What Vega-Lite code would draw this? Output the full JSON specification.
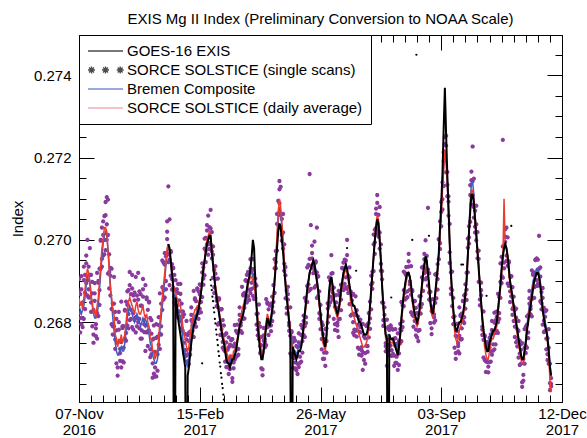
{
"$schema": "https://vega.github.io/schema/vega-lite/v6.json",
"width": 483, "height": 367,
"autosize": {"type": "none"},
"padding": {"left": 79, "top": 35, "right": 25, "bottom": 36},
"background": "white",
"title": {"text": "EXIS Mg II Index (Preliminary Conversion to NOAA Scale)", "font": "Liberation Sans", "fontSize": 15, "fontWeight": "normal", "color": "black", "anchor": "middle", "frame": "group", "offset": -4, "baseline": "alphabetic"},
"config": {"view": {"stroke": "black", "strokeWidth": 1}, "font": "Liberation Sans", "axis": {"grid": false, "domain": false, "tickColor": "black", "tickWidth": 1}},
"datasets": {
"series": [{"series":"GOES-16 EXIS"},{"series":"SORCE SOLSTICE (single scans)"},{"series":"Bremen Composite"},{"series":"SORCE SOLSTICE (daily average)"}],
"daily": [
{"date":"2016-11-07","bremen":0.2684,"sorce":0.2686,"scan1":0.26905,"scan2":0.26822,"scan3":0.26872},
{"date":"2016-11-08","bremen":0.2683,"sorce":0.2684,"scan1":0.26810,"scan2":0.26868,"scan3":0.26775},
{"date":"2016-11-09","bremen":0.2682,"sorce":0.2685,"scan1":0.26912,"scan2":0.26795,"scan3":0.26880},
{"date":"2016-11-10","bremen":0.2683,"sorce":0.2683,"scan1":0.26848,"scan2":0.26810,"scan3":0.26788},
{"date":"2016-11-11","bremen":0.2684,"sorce":0.2686,"scan1":0.26808,"scan2":0.26902,"scan3":0.26935},
{"date":"2016-11-12","bremen":0.2686,"sorce":0.2688,"scan1":0.26915,"scan2":0.26832,"scan3":0.26872},
{"date":"2016-11-13","bremen":0.2689,"sorce":0.2691,"scan1":0.26895,"scan2":0.26943,"scan3":0.26962},
{"date":"2016-11-14","bremen":0.2691,"sorce":0.2693,"scan1":0.27000,"scan2":0.26865,"scan3":0.26902},
{"date":"2016-11-15","bremen":0.2692,"sorce":0.2692,"scan1":0.26880,"scan2":0.26935,"scan3":0.26860},
{"date":"2016-11-16","bremen":0.2690,"sorce":0.2689,"scan1":0.26915,"scan2":0.26860,"scan3":0.26980},
{"date":"2016-11-17","bremen":0.2687,"sorce":0.2686,"scan1":0.26915,"scan2":0.26848,"scan3":0.26825},
{"date":"2016-11-18","bremen":0.2684,"sorce":0.2685,"scan1":0.26790,"scan2":0.26898,"scan3":0.26870},
{"date":"2016-11-19","bremen":0.2682,"sorce":0.2682,"scan1":0.26830,"scan2":0.26750,"scan3":0.26770},
{"date":"2016-11-20","bremen":0.2681,"sorce":0.2683,"scan1":0.26870,"scan2":0.26852,"scan3":0.26895},
{"date":"2016-11-21","bremen":0.2681,"sorce":0.2681,"scan1":0.26785,"scan2":0.26766,"scan3":0.26795},
{"date":"2016-11-22","bremen":0.2682,"sorce":0.2684,"scan1":0.26920,"scan2":0.26822,"scan3":0.26760},
{"date":"2016-11-23","bremen":0.2684,"sorce":0.2686,"scan1":0.26815,"scan2":0.26896,"scan3":0.26900},
{"date":"2016-11-24","bremen":0.2688,"sorce":0.2690,"scan1":0.26930,"scan2":0.26842,"scan3":0.26878},
{"date":"2016-11-25","bremen":0.2692,"sorce":0.2694,"scan1":0.26930,"scan2":0.27000,"scan3":0.26998},
{"date":"2016-11-26","bremen":0.2696,"sorce":0.2698,"scan1":0.27030,"scan2":0.26954,"scan3":0.26935},
{"date":"2016-11-27","bremen":0.2699,"sorce":0.2700,"scan1":0.27045,"scan2":0.26962,"scan3":0.27012},
{"date":"2016-11-28","bremen":0.2701,"sorce":0.2703,"scan1":0.27000,"scan2":0.27058,"scan3":0.26965},
{"date":"2016-11-29","bremen":0.2702,"sorce":0.2703,"scan1":0.27092,"scan2":0.26975,"scan3":0.27060},
{"date":"2016-11-30","bremen":0.2701,"sorce":0.2702,"scan1":0.27038,"scan2":0.27000,"scan3":0.27104},
{"date":"2016-12-01","bremen":0.2698,"sorce":0.2697,"scan1":0.26918,"scan2":0.27012,"scan3":0.27098},
{"date":"2016-12-02","bremen":0.2694,"sorce":0.2693,"scan1":0.26965,"scan2":0.26882,"scan3":0.26922},
{"date":"2016-12-03","bremen":0.2689,"sorce":0.2688,"scan1":0.26865,"scan2":0.26913,"scan3":0.26932},
{"date":"2016-12-04","bremen":0.2685,"sorce":0.2686,"scan1":0.26930,"scan2":0.26795,"scan3":0.26832},
{"date":"2016-12-05","bremen":0.2681,"sorce":0.2683,"scan1":0.26790,"scan2":0.26845,"scan3":0.26770},
{"date":"2016-12-06","bremen":0.2678,"sorce":0.2682,"scan1":0.26845,"scan2":0.26790,"scan3":0.26910},
{"date":"2016-12-07","bremen":0.2675,"sorce":0.2677,"scan1":0.26825,"scan2":0.26758,"scan3":0.26735},
{"date":"2016-12-08","bremen":0.2673,"sorce":0.2676,"scan1":0.26700,"scan2":0.26808,"scan3":0.26780},
{"date":"2016-12-09","bremen":0.2672,"sorce":0.2674,"scan1":0.26750,"scan2":0.26670,"scan3":0.26690},
{"date":"2016-12-10","bremen":0.2672,"sorce":0.2676,"scan1":0.26800,"scan2":0.26782,"scan3":0.26825},
{"date":"2016-12-11","bremen":0.2673,"sorce":0.2675,"scan1":0.26725,"scan2":0.26706,"scan3":0.26735},
{"date":"2016-12-12","bremen":0.2674,"sorce":0.2677,"scan1":0.26850,"scan2":0.26752,"scan3":0.26690},
{"date":"2016-12-13","bremen":0.2673,"sorce":0.2675,"scan1":0.26705,"scan2":0.26786,"scan3":0.26790},
{"date":"2016-12-14","bremen":0.2673,"sorce":0.2676,"scan1":0.26790,"scan2":0.26702,"scan3":0.26738},
{"date":"2016-12-15","bremen":0.2675,"sorce":0.2677,"scan1":0.26760,"scan2":0.26830,"scan3":0.26828},
{"date":"2016-12-16","bremen":0.2678,"sorce":0.2680,"scan1":0.26850,"scan2":0.26774,"scan3":0.26755},
{"date":"2016-12-17","bremen":0.2681,"sorce":0.2683,"scan1":0.26875,"scan2":0.26792,"scan3":0.26842},
{"date":"2016-12-18","bremen":0.2683,"sorce":0.2685,"scan1":0.26820,"scan2":0.26878,"scan3":0.26785},
{"date":"2016-12-19","bremen":0.2684,"sorce":0.2686,"scan1":0.26922,"scan2":0.26805,"scan3":0.26890},
{"date":"2016-12-20","bremen":0.2683,"sorce":0.2685,"scan1":0.26868,"scan2":0.26830,"scan3":0.26808},
{"date":"2016-12-21","bremen":0.2682,"sorce":0.2684,"scan1":0.26788,"scan2":0.26882,"scan3":0.26915},
{"date":"2016-12-22","bremen":0.2681,"sorce":0.2683,"scan1":0.26865,"scan2":0.26782,"scan3":0.26822},
{"date":"2016-12-23","bremen":0.2680,"sorce":0.2682,"scan1":0.26805,"scan2":0.26853,"scan3":0.26872},
{"date":"2016-12-24","bremen":0.2681,"sorce":0.2684,"scan1":0.26910,"scan2":0.26775,"scan3":0.26812},
{"date":"2016-12-25","bremen":0.2682,"sorce":0.2685,"scan1":0.26810,"scan2":0.26865,"scan3":0.26790},
{"date":"2016-12-26","bremen":0.2681,"sorce":0.2683,"scan1":0.26855,"scan2":0.26800,"scan3":0.26920},
{"date":"2016-12-27","bremen":0.2680,"sorce":0.2682,"scan1":0.26875,"scan2":0.26808,"scan3":0.26785},
{"date":"2016-12-28","bremen":0.2679,"sorce":0.2682,"scan1":0.26760,"scan2":0.26868,"scan3":0.26840},
{"date":"2016-12-29","bremen":0.2680,"sorce":0.2683,"scan1":0.26840,"scan2":0.26760,"scan3":0.26780},
{"date":"2016-12-30","bremen":0.2681,"sorce":0.2684,"scan1":0.26880,"scan2":0.26862,"scan3":0.26905},
{"date":"2016-12-31","bremen":0.2680,"sorce":0.2682,"scan1":0.26795,"scan2":0.26776,"scan3":0.26805},
{"date":"2017-01-01","bremen":0.2679,"sorce":0.2681,"scan1":0.26890,"scan2":0.26792,"scan3":0.26730},
{"date":"2017-01-02","bremen":0.2680,"sorce":0.2682,"scan1":0.26775,"scan2":0.26856,"scan3":0.26860},
{"date":"2017-01-03","bremen":0.2679,"sorce":0.2680,"scan1":0.26830,"scan2":0.26742,"scan3":0.26778},
{"date":"2017-01-04","bremen":0.2677,"sorce":0.2679,"scan1":0.26780,"scan2":0.26850,"scan3":0.26848},
{"date":"2017-01-05","bremen":0.2675,"sorce":0.2676,"scan1":0.26810,"scan2":0.26734,"scan3":0.26715},
{"date":"2017-01-06","bremen":0.2674,"sorce":0.2676,"scan1":0.26805,"scan2":0.26722,"scan3":0.26772},
{"date":"2017-01-07","bremen":0.2672,"sorce":0.2673,"scan1":0.26700,"scan2":0.26758,"scan3":0.26665},
{"date":"2017-01-08","bremen":0.2671,"sorce":0.2673,"scan1":0.26792,"scan2":0.26675,"scan3":0.26760},
{"date":"2017-01-09","bremen":0.2670,"sorce":0.2671,"scan1":0.26728,"scan2":0.26690,"scan3":0.26668},
{"date":"2017-01-10","bremen":0.2670,"sorce":0.2672,"scan1":0.26668,"scan2":0.26762,"scan3":0.26795},
{"date":"2017-01-11","bremen":0.2671,"sorce":0.2673,"scan1":0.26765,"scan2":0.26682,"scan3":0.26722},
{"date":"2017-01-12","bremen":0.2674,"sorce":0.2676,"scan1":0.26745,"scan2":0.26793,"scan3":0.26812},
{"date":"2017-01-13","bremen":0.2678,"sorce":0.2680,"scan1":0.26870,"scan2":0.26735,"scan3":0.26772},
{"date":"2017-01-14","bremen":0.2681,"sorce":0.2683,"scan1":0.26790,"scan2":0.26845,"scan3":0.26770},
{"date":"2017-01-15","bremen":0.2684,"sorce":0.2686,"scan1":0.26885,"scan2":0.26830,"scan3":0.26950},
{"date":"2017-01-16","bremen":0.2687,"sorce":0.2689,"scan1":0.26945,"scan2":0.26878,"scan3":0.26855},
{"date":"2017-01-17","bremen":0.2690,"sorce":0.2692,"scan1":0.26860,"scan2":0.26968,"scan3":0.26940},
{"date":"2017-01-18","bremen":0.2694,"sorce":0.2695,"scan1":0.26960,"scan2":0.26880,"scan3":0.26900},
{"date":"2017-01-19","bremen":0.2697,"sorce":0.2698,"scan1":0.27020,"scan2":0.27002,"scan3":0.27045},
{"date":"2017-01-20","bremen":0.2699,"sorce":0.2699,"goes":0.2699,"scan1":0.26965,"scan2":0.26946,"scan3":0.27130},
{"date":"2017-01-21","bremen":0.2697,"sorce":0.2697,"goes":0.2698,"scan1":0.27050,"scan2":0.26952,"scan3":0.26890},
{"date":"2017-01-22","bremen":0.2694,"sorce":0.26945,"goes":0.2695,"scan1":0.26913,"scan2":0.26970,"scan3":0.26973},
{"date":"2017-01-23","bremen":0.2691,"sorce":0.2692,"goes":0.2692,"scan1":0.26941,"scan2":0.26879,"scan3":0.26905},
{"date":"2017-01-24","bremen":0.2688,"sorce":0.2689,"goes":0.2689,"scan1":0.26883,"scan2":0.26932,"scan3":0.26931},
{"date":"2017-01-25","bremen":0.2686,"sorce":0.2688,"goes":0.2600,"scan1":0.26915,"scan2":0.26862,"scan3":0.26848},
{"date":"2017-01-26","bremen":0.2685,"sorce":0.2687,"goes":0.2686,"scan1":0.26902,"scan2":0.26843,"scan3":0.26878},
{"date":"2017-01-27","bremen":0.2684,"sorce":0.2686,"goes":0.2684,"scan1":0.26839,"scan2":0.26880,"scan3":0.26814},
{"date":"2017-01-28","bremen":0.2683,"sorce":0.2685,"goes":0.2681,"scan1":0.26893,"scan2":0.26811,"scan3":0.26871},
{"date":"2017-01-29","bremen":0.2682,"sorce":0.2684,"goes":0.2679,"scan1":0.26853,"scan2":0.26826,"scan3":0.26811},
{"date":"2017-01-30","bremen":0.2681,"sorce":0.2684,"goes":0.2677,"scan1":0.26804,"scan2":0.26869,"scan3":0.26893},
{"date":"2017-01-31","bremen":0.2679,"sorce":0.2682,"goes":0.2675,"scan1":0.26845,"scan2":0.26786,"scan3":0.26814},
{"date":"2017-02-01","bremen":0.2676,"sorce":0.2679,"goes":0.2673,"scan1":0.26779,"scan2":0.26813,"scan3":0.26826},
{"date":"2017-02-02","bremen":0.2673,"sorce":0.2677,"goes":0.2671,"scan1":0.26819,"scan2":0.26724,"scan3":0.26750},
{"date":"2017-02-03","bremen":0.2671,"sorce":0.2676,"goes":0.2669,"scan1":0.26732,"scan2":0.26771,"scan3":0.26718},
{"date":"2017-02-04","bremen":0.2670,"sorce":0.2674,"goes":0.2600,"scan1":0.26758,"scan2":0.26719,"scan3":0.26803},
{"date":"2017-02-05","bremen":0.2669,"sorce":0.2673,"goes":0.2667,"scan1":0.26769,"scan2":0.26722,"scan3":0.26705},
{"date":"2017-02-06","bremen":0.2671,"sorce":0.2674,"goes":0.2669,"scan1":0.26698,"scan2":0.26774,"scan3":0.26754},
{"date":"2017-02-07","bremen":0.2674,"sorce":0.2677,"goes":0.2672,"scan1":0.26777,"scan2":0.26721,"scan3":0.26735},
{"date":"2017-02-08","bremen":0.2677,"sorce":0.2679,"goes":0.2675,"scan1":0.26818,"scan2":0.26805,"scan3":0.26836},
{"date":"2017-02-09","bremen":0.2679,"sorce":0.2681,"goes":0.2677,"scan1":0.26792,"scan2":0.26779,"scan3":0.26799},
{"date":"2017-02-10","bremen":0.2680,"sorce":0.2682,"goes":0.2679,"scan1":0.26876,"scan2":0.26807,"scan3":0.26764},
{"date":"2017-02-11","bremen":0.2681,"sorce":0.2683,"goes":0.2680,"scan1":0.26798,"scan2":0.26855,"scan3":0.26858},
{"date":"2017-02-12","bremen":0.2682,"sorce":0.2683,"goes":0.2681,"scan1":0.26851,"scan2":0.26789,"scan3":0.26815},
{"date":"2017-02-13","bremen":0.2683,"sorce":0.2684,"goes":0.2682,"scan1":0.26833,"scan2":0.26882,"scan3":0.26881},
{"date":"2017-02-14","bremen":0.2684,"sorce":0.2684,"goes":0.2683,"scan1":0.26875,"scan2":0.26822,"scan3":0.26808},
{"date":"2017-02-15","bremen":0.2685,"sorce":0.2686,"goes":0.2685,"scan1":0.26892,"scan2":0.26833,"scan3":0.26868},
{"date":"2017-02-16","bremen":0.2687,"sorce":0.2687,"goes":0.2687,"scan1":0.26849,"scan2":0.26890,"scan3":0.26824},
{"date":"2017-02-17","bremen":0.2689,"sorce":0.2690,"goes":0.2690,"scan1":0.26943,"scan2":0.26861,"scan3":0.26921},
{"date":"2017-02-18","bremen":0.2692,"sorce":0.2692,"goes":0.2693,"scan1":0.26933,"scan2":0.26906,"scan3":0.26891},
{"date":"2017-02-19","bremen":0.2695,"sorce":0.2695,"goes":0.2695,"scan1":0.26914,"scan2":0.26979,"scan3":0.27003},
{"date":"2017-02-20","bremen":0.2697,"sorce":0.2698,"goes":0.2697,"scan1":0.27005,"scan2":0.26946,"scan3":0.26974},
{"date":"2017-02-21","bremen":0.2699,"sorce":0.2700,"goes":0.2699,"scan1":0.26989,"scan2":0.27023,"scan3":0.27036},
{"date":"2017-02-22","bremen":0.2700,"sorce":0.2701,"goes":0.2700,"scan1":0.27059,"scan2":0.26964,"scan3":0.26990},
{"date":"2017-02-23","bremen":0.2701,"sorce":0.2702,"goes":0.2701,"scan1":0.26992,"scan2":0.27031,"scan3":0.26978},
{"date":"2017-02-24","bremen":0.2700,"sorce":0.2701,"goes":0.2701,"scan1":0.27028,"scan2":0.26989,"scan3":0.27073},
{"date":"2017-02-25","bremen":0.2697,"sorce":0.2698,"goes":0.2697,"scan1":0.27019,"scan2":0.26972,"scan3":0.26955},
{"date":"2017-02-26","bremen":0.2694,"sorce":0.2695,"goes":0.2694,"scan1":0.26908,"scan2":0.26984,"scan3":0.26964},
{"date":"2017-02-27","bremen":0.2691,"sorce":0.2692,"goes":0.2691,"scan1":0.26927,"scan2":0.26871,"scan3":0.26885},
{"date":"2017-02-28","bremen":0.2688,"sorce":0.2689,"goes":0.2688,"scan1":0.26918,"scan2":0.26905,"scan3":0.26936},
{"date":"2017-03-01","bremen":0.2686,"sorce":0.2687,"goes":0.2686,"scan1":0.26852,"scan2":0.26839,"scan3":0.26859},
{"date":"2017-03-02","bremen":0.2684,"sorce":0.2685,"goes":0.2684,"scan1":0.26906,"scan2":0.26837,"scan3":0.26794},
{"date":"2017-03-03","bremen":0.2682,"sorce":0.2683,"goes":0.2682,"scan1":0.26798,"scan2":0.26855,"scan3":0.26858},
{"date":"2017-03-04","bremen":0.2680,"sorce":0.2681,"goes":0.2680,"scan1":0.26831,"scan2":0.26769,"scan3":0.26795},
{"date":"2017-03-05","bremen":0.2678,"sorce":0.2679,"goes":0.2678,"scan1":0.26783,"scan2":0.26832,"scan3":0.26831},
{"date":"2017-03-06","bremen":0.2676,"sorce":0.2677,"goes":0.2676,"scan1":0.26805,"scan2":0.26752,"scan3":0.26738},
{"date":"2017-03-07","bremen":0.2675,"sorce":0.2676,"goes":0.2675,"scan1":0.26792,"scan2":0.26733,"scan3":0.26768},
{"date":"2017-03-08","bremen":0.2674,"sorce":0.2675,"goes":0.2673,"scan1":0.26729,"scan2":0.26770,"scan3":0.26704},
{"date":"2017-03-09","bremen":0.2672,"sorce":0.2673,"goes":0.2671,"scan1":0.26773,"scan2":0.26691,"scan3":0.26751},
{"date":"2017-03-10","bremen":0.2671,"sorce":0.2672,"goes":0.2670,"scan1":0.26733,"scan2":0.26706,"scan3":0.26691},
{"date":"2017-03-11","bremen":0.2671,"sorce":0.2671,"goes":0.2670,"scan1":0.26674,"scan2":0.26739,"scan3":0.26763},
{"date":"2017-03-12","bremen":0.2670,"sorce":0.2672,"goes":0.2669,"scan1":0.26745,"scan2":0.26686,"scan3":0.26714},
{"date":"2017-03-13","bremen":0.2671,"sorce":0.2672,"goes":0.2670,"scan1":0.26709,"scan2":0.26743,"scan3":0.26756},
{"date":"2017-03-14","bremen":0.2671,"sorce":0.2671,"goes":0.2671,"scan1":0.26759,"scan2":0.26664,"scan3":0.26655},
{"date":"2017-03-15","bremen":0.2672,"sorce":0.2673,"goes":0.2671,"scan1":0.26702,"scan2":0.26741,"scan3":0.26688},
{"date":"2017-03-16","bremen":0.2672,"sorce":0.2673,"goes":0.2672,"scan1":0.26748,"scan2":0.26709,"scan3":0.26793},
{"date":"2017-03-17","bremen":0.2673,"sorce":0.2674,"goes":0.2673,"scan1":0.26779,"scan2":0.26732,"scan3":0.26715},
{"date":"2017-03-18","bremen":0.2675,"sorce":0.2676,"goes":0.2675,"scan1":0.26718,"scan2":0.26794,"scan3":0.26774},
{"date":"2017-03-19","bremen":0.2677,"sorce":0.2677,"goes":0.2677,"scan1":0.26777,"scan2":0.26721,"scan3":0.26735},
{"date":"2017-03-20","bremen":0.2679,"sorce":0.2679,"goes":0.2679,"scan1":0.26818,"scan2":0.26805,"scan3":0.26836},
{"date":"2017-03-21","bremen":0.2680,"sorce":0.2681,"goes":0.2680,"scan1":0.26792,"scan2":0.26779,"scan3":0.26799},
{"date":"2017-03-22","bremen":0.2681,"sorce":0.2683,"goes":0.2681,"scan1":0.26886,"scan2":0.26817,"scan3":0.26774},
{"date":"2017-03-23","bremen":0.2682,"sorce":0.2684,"goes":0.2682,"scan1":0.26808,"scan2":0.26865,"scan3":0.26868},
{"date":"2017-03-24","bremen":0.2683,"sorce":0.2685,"goes":0.2684,"scan1":0.26871,"scan2":0.26809,"scan3":0.26835},
{"date":"2017-03-25","bremen":0.2685,"sorce":0.2686,"goes":0.2686,"scan1":0.26853,"scan2":0.26902,"scan3":0.26901},
{"date":"2017-03-26","bremen":0.2687,"sorce":0.2688,"goes":0.2688,"scan1":0.26915,"scan2":0.26862,"scan3":0.26848},
{"date":"2017-03-27","bremen":0.2689,"sorce":0.2689,"goes":0.2690,"scan1":0.26922,"scan2":0.26863,"scan3":0.26898},
{"date":"2017-03-28","bremen":0.2691,"sorce":0.2690,"goes":0.2691,"scan1":0.26879,"scan2":0.26920,"scan3":0.26854},
{"date":"2017-03-29","bremen":0.2692,"sorce":0.2691,"goes":0.2693,"scan1":0.26953,"scan2":0.26871,"scan3":0.26931},
{"date":"2017-03-30","bremen":0.2692,"sorce":0.2691,"goes":0.2696,"scan1":0.26923,"scan2":0.26896,"scan3":0.26881},
{"date":"2017-03-31","bremen":0.2691,"sorce":0.2690,"goes":0.2700,"scan1":0.26864,"scan2":0.26929,"scan3":0.26953},
{"date":"2017-04-01","bremen":0.2690,"sorce":0.2689,"goes":0.2698,"scan1":0.26915,"scan2":0.26856,"scan3":0.26884},
{"date":"2017-04-02","bremen":0.2687,"sorce":0.2687,"goes":0.2690,"scan1":0.26859,"scan2":0.26893,"scan3":0.26906},
{"date":"2017-04-03","bremen":0.2684,"sorce":0.2684,"goes":0.2684,"scan1":0.26889,"scan2":0.26794,"scan3":0.26820},
{"date":"2017-04-04","bremen":0.2680,"sorce":0.2681,"goes":0.2679,"scan1":0.26782,"scan2":0.26821,"scan3":0.26768},
{"date":"2017-04-05","bremen":0.2677,"sorce":0.2678,"goes":0.2676,"scan1":0.26798,"scan2":0.26759,"scan3":0.26843},
{"date":"2017-04-06","bremen":0.2674,"sorce":0.2675,"goes":0.2673,"scan1":0.26789,"scan2":0.26742,"scan3":0.26725},
{"date":"2017-04-07","bremen":0.2672,"sorce":0.2673,"goes":0.2671,"scan1":0.26688,"scan2":0.26764,"scan3":0.26744},
{"date":"2017-04-08","bremen":0.2672,"sorce":0.2672,"goes":0.2671,"scan1":0.26727,"scan2":0.26671,"scan3":0.26685},
{"date":"2017-04-09","bremen":0.2674,"sorce":0.2674,"goes":0.2673,"scan1":0.26768,"scan2":0.26755,"scan3":0.26786},
{"date":"2017-04-10","bremen":0.2677,"sorce":0.2677,"goes":0.2676,"scan1":0.26752,"scan2":0.26739,"scan3":0.26759},
{"date":"2017-04-11","bremen":0.2679,"sorce":0.2680,"goes":0.2679,"scan1":0.26856,"scan2":0.26787,"scan3":0.26744},
{"date":"2017-04-12","bremen":0.2680,"sorce":0.2682,"goes":0.2681,"scan1":0.26788,"scan2":0.26845,"scan3":0.26848},
{"date":"2017-04-13","bremen":0.2680,"sorce":0.2681,"goes":0.2680,"scan1":0.26831,"scan2":0.26769,"scan3":0.26795},
{"date":"2017-04-14","bremen":0.2679,"sorce":0.2680,"goes":0.2679,"scan1":0.26793,"scan2":0.26842,"scan3":0.26841},
{"date":"2017-04-15","bremen":0.2680,"sorce":0.2681,"goes":0.2681,"scan1":0.26845,"scan2":0.26792,"scan3":0.26778},
{"date":"2017-04-16","bremen":0.2682,"sorce":0.2683,"goes":0.2683,"scan1":0.26862,"scan2":0.26803,"scan3":0.26838},
{"date":"2017-04-17","bremen":0.2686,"sorce":0.2687,"goes":0.2686,"scan1":0.26849,"scan2":0.26890,"scan3":0.26824},
{"date":"2017-04-18","bremen":0.2690,"sorce":0.2691,"goes":0.2690,"scan1":0.26953,"scan2":0.26871,"scan3":0.26931},
{"date":"2017-04-19","bremen":0.2695,"sorce":0.2696,"goes":0.2694,"scan1":0.26973,"scan2":0.26946,"scan3":0.26931},
{"date":"2017-04-20","bremen":0.2700,"sorce":0.2701,"goes":0.2698,"scan1":0.26974,"scan2":0.27039,"scan3":0.27063},
{"date":"2017-04-21","bremen":0.2705,"sorce":0.2707,"goes":0.2702,"scan1":0.27095,"scan2":0.27036,"scan3":0.27064},
{"date":"2017-04-22","bremen":0.2708,"sorce":0.2710,"goes":0.2704,"scan1":0.27089,"scan2":0.27123,"scan3":0.27143},
{"date":"2017-04-23","bremen":0.2707,"sorce":0.2708,"goes":0.2703,"scan1":0.27129,"scan2":0.27034,"scan3":0.27060},
{"date":"2017-04-24","bremen":0.2703,"sorce":0.2704,"goes":0.2700,"scan1":0.27012,"scan2":0.27051,"scan3":0.26998},
{"date":"2017-04-25","bremen":0.2699,"sorce":0.2700,"goes":0.2697,"scan1":0.27018,"scan2":0.26979,"scan3":0.27063},
{"date":"2017-04-26","bremen":0.2694,"sorce":0.2695,"goes":0.2693,"scan1":0.26989,"scan2":0.26942,"scan3":0.26925},
{"date":"2017-04-27","bremen":0.2690,"sorce":0.2690,"goes":0.2689,"scan1":0.26858,"scan2":0.26934,"scan3":0.26914},
{"date":"2017-04-28","bremen":0.2687,"sorce":0.2687,"goes":0.2686,"scan1":0.26877,"scan2":0.26821,"scan3":0.26835},
{"date":"2017-04-29","bremen":0.2684,"sorce":0.2684,"goes":0.2683,"scan1":0.26868,"scan2":0.26855,"scan3":0.26886},
{"date":"2017-04-30","bremen":0.2681,"sorce":0.2681,"goes":0.2680,"scan1":0.26792,"scan2":0.26779,"scan3":0.26799},
{"date":"2017-05-01","bremen":0.2678,"sorce":0.2678,"goes":0.2677,"scan1":0.26836,"scan2":0.26767,"scan3":0.26724},
{"date":"2017-05-02","bremen":0.2676,"sorce":0.2675,"goes":0.2600,"scan1":0.26718,"scan2":0.26775,"scan3":0.26778},
{"date":"2017-05-03","bremen":0.2674,"sorce":0.2673,"goes":0.2674,"scan1":0.26751,"scan2":0.26689,"scan3":0.26715},
{"date":"2017-05-04","bremen":0.2673,"sorce":0.2672,"goes":0.2673,"scan1":0.26713,"scan2":0.26762,"scan3":0.26761},
{"date":"2017-05-05","bremen":0.2673,"sorce":0.2672,"goes":0.2672,"scan1":0.26755,"scan2":0.26702,"scan3":0.26688},
{"date":"2017-05-06","bremen":0.2672,"sorce":0.2671,"goes":0.2671,"scan1":0.26742,"scan2":0.26683,"scan3":0.26718},
{"date":"2017-05-07","bremen":0.2673,"sorce":0.2672,"goes":0.2672,"scan1":0.26699,"scan2":0.26740,"scan3":0.26674},
{"date":"2017-05-08","bremen":0.2674,"sorce":0.2673,"goes":0.2673,"scan1":0.26773,"scan2":0.26691,"scan3":0.26751},
{"date":"2017-05-09","bremen":0.2674,"sorce":0.2673,"goes":0.2673,"scan1":0.26743,"scan2":0.26716,"scan3":0.26701},
{"date":"2017-05-10","bremen":0.2675,"sorce":0.2674,"goes":0.2674,"scan1":0.26704,"scan2":0.26769,"scan3":0.26793},
{"date":"2017-05-11","bremen":0.2677,"sorce":0.2676,"goes":0.2676,"scan1":0.26785,"scan2":0.26726,"scan3":0.26754},
{"date":"2017-05-12","bremen":0.2679,"sorce":0.2678,"goes":0.2679,"scan1":0.26769,"scan2":0.26803,"scan3":0.26816},
{"date":"2017-05-13","bremen":0.2682,"sorce":0.2681,"goes":0.2682,"scan1":0.26859,"scan2":0.26764,"scan3":0.26790},
{"date":"2017-05-14","bremen":0.2685,"sorce":0.2684,"goes":0.2685,"scan1":0.26812,"scan2":0.26851,"scan3":0.26798},
{"date":"2017-05-15","bremen":0.2688,"sorce":0.2687,"goes":0.2688,"scan1":0.26888,"scan2":0.26849,"scan3":0.26933},
{"date":"2017-05-16","bremen":0.2690,"sorce":0.2690,"goes":0.2690,"scan1":0.26939,"scan2":0.26892,"scan3":0.26875},
{"date":"2017-05-17","bremen":0.2692,"sorce":0.2692,"goes":0.2692,"scan1":0.26878,"scan2":0.26954,"scan3":0.27160},
{"date":"2017-05-18","bremen":0.2693,"sorce":0.2693,"goes":0.2693,"scan1":0.26937,"scan2":0.26881,"scan3":0.27036},
{"date":"2017-05-19","bremen":0.2694,"sorce":0.2694,"goes":0.2694,"scan1":0.26968,"scan2":0.26955,"scan3":0.26986},
{"date":"2017-05-20","bremen":0.2694,"sorce":0.2695,"goes":0.2695,"scan1":0.26932,"scan2":0.26919,"scan3":0.26939},
{"date":"2017-05-21","bremen":0.2694,"sorce":0.2694,"goes":0.2694,"scan1":0.26996,"scan2":0.26927,"scan3":0.26884},
{"date":"2017-05-22","bremen":0.2693,"sorce":0.2692,"goes":0.2692,"scan1":0.26888,"scan2":0.26945,"scan3":0.26948},
{"date":"2017-05-23","bremen":0.2691,"sorce":0.2690,"goes":0.2690,"scan1":0.26921,"scan2":0.26859,"scan3":0.27030},
{"date":"2017-05-24","bremen":0.2688,"sorce":0.2687,"goes":0.2688,"scan1":0.26863,"scan2":0.26912,"scan3":0.26911},
{"date":"2017-05-25","bremen":0.2685,"sorce":0.2684,"goes":0.2685,"scan1":0.26875,"scan2":0.26822,"scan3":0.26808},
{"date":"2017-05-26","bremen":0.2682,"sorce":0.2681,"goes":0.2682,"scan1":0.26842,"scan2":0.26783,"scan3":0.26818},
{"date":"2017-05-27","bremen":0.2679,"sorce":0.2678,"goes":0.2679,"scan1":0.26759,"scan2":0.26800,"scan3":0.26734},
{"date":"2017-05-28","bremen":0.2677,"sorce":0.2675,"goes":0.2677,"scan1":0.26793,"scan2":0.26711,"scan3":0.26771},
{"date":"2017-05-29","bremen":0.2675,"sorce":0.2674,"goes":0.2675,"scan1":0.26753,"scan2":0.26726,"scan3":0.26711},
{"date":"2017-05-30","bremen":0.2674,"sorce":0.2673,"goes":0.2674,"scan1":0.26694,"scan2":0.26759,"scan3":0.26783},
{"date":"2017-05-31","bremen":0.2677,"sorce":0.2676,"goes":0.2677,"scan1":0.26785,"scan2":0.26726,"scan3":0.26754},
{"date":"2017-06-01","bremen":0.2682,"sorce":0.2681,"goes":0.2682,"scan1":0.26799,"scan2":0.26833,"scan3":0.26846},
{"date":"2017-06-02","bremen":0.2687,"sorce":0.2686,"goes":0.2687,"scan1":0.26909,"scan2":0.26814,"scan3":0.26840},
{"date":"2017-06-03","bremen":0.2690,"sorce":0.2689,"goes":0.2690,"scan1":0.26862,"scan2":0.26901,"scan3":0.26848},
{"date":"2017-06-04","bremen":0.2691,"sorce":0.2690,"goes":0.2691,"scan1":0.26918,"scan2":0.26879,"scan3":0.26963},
{"date":"2017-06-05","bremen":0.2689,"sorce":0.2688,"goes":0.2689,"scan1":0.26919,"scan2":0.26872,"scan3":0.26855},
{"date":"2017-06-06","bremen":0.2686,"sorce":0.2685,"goes":0.2686,"scan1":0.26808,"scan2":0.26884,"scan3":0.26864},
{"date":"2017-06-07","bremen":0.2684,"sorce":0.2683,"goes":0.2684,"scan1":0.26837,"scan2":0.26781,"scan3":0.26795},
{"date":"2017-06-08","bremen":0.2683,"sorce":0.2682,"goes":0.2683,"scan1":0.26848,"scan2":0.26835,"scan3":0.26866},
{"date":"2017-06-09","bremen":0.2682,"sorce":0.2681,"goes":0.2682,"scan1":0.26792,"scan2":0.26779,"scan3":0.26799},
{"date":"2017-06-10","bremen":0.2683,"sorce":0.2682,"goes":0.2683,"scan1":0.26876,"scan2":0.26807,"scan3":0.26764},
{"date":"2017-06-11","bremen":0.2685,"sorce":0.2684,"goes":0.2685,"scan1":0.26808,"scan2":0.26865,"scan3":0.26868},
{"date":"2017-06-12","bremen":0.2688,"sorce":0.2687,"goes":0.2688,"scan1":0.26891,"scan2":0.26829,"scan3":0.26855},
{"date":"2017-06-13","bremen":0.2690,"sorce":0.2689,"goes":0.2690,"scan1":0.26883,"scan2":0.26932,"scan3":0.26931},
{"date":"2017-06-14","bremen":0.2692,"sorce":0.2691,"goes":0.2692,"scan1":0.26945,"scan2":0.26892,"scan3":0.26878},
{"date":"2017-06-15","bremen":0.2693,"sorce":0.2692,"goes":0.2693,"scan1":0.26952,"scan2":0.26893,"scan3":0.26928},
{"date":"2017-06-16","bremen":0.2694,"sorce":0.2693,"goes":0.2694,"scan1":0.26909,"scan2":0.26950,"scan3":0.26884},
{"date":"2017-06-17","bremen":0.2693,"sorce":0.2692,"goes":0.2693,"scan1":0.26963,"scan2":0.26881,"scan3":0.27000},
{"date":"2017-06-18","bremen":0.2691,"sorce":0.2690,"goes":0.2691,"scan1":0.26913,"scan2":0.26886,"scan3":0.26871},
{"date":"2017-06-19","bremen":0.2689,"sorce":0.2688,"goes":0.2689,"scan1":0.26844,"scan2":0.26909,"scan3":0.26933},
{"date":"2017-06-20","bremen":0.2687,"sorce":0.2685,"goes":0.2687,"scan1":0.26875,"scan2":0.26816,"scan3":0.26844},
{"date":"2017-06-21","bremen":0.2685,"sorce":0.2683,"goes":0.2685,"scan1":0.26819,"scan2":0.26853,"scan3":0.26866},
{"date":"2017-06-22","bremen":0.2684,"sorce":0.2682,"goes":0.2684,"scan1":0.26869,"scan2":0.26774,"scan3":0.26800},
{"date":"2017-06-23","bremen":0.2684,"sorce":0.2681,"goes":0.2684,"scan1":0.26782,"scan2":0.26821,"scan3":0.26768},
{"date":"2017-06-24","bremen":0.2683,"sorce":0.2680,"goes":0.2683,"scan1":0.26818,"scan2":0.26779,"scan3":0.26863},
{"date":"2017-06-25","bremen":0.2682,"sorce":0.2679,"goes":0.2682,"scan1":0.26829,"scan2":0.26782,"scan3":0.26765},
{"date":"2017-06-26","bremen":0.2681,"sorce":0.2678,"goes":0.2681,"scan1":0.26738,"scan2":0.26814,"scan3":0.26794},
{"date":"2017-06-27","bremen":0.2680,"sorce":0.2677,"goes":0.2680,"scan1":0.26777,"scan2":0.26721,"scan3":0.26735},
{"date":"2017-06-28","bremen":0.2680,"sorce":0.2676,"goes":0.2680,"scan1":0.26788,"scan2":0.26775,"scan3":0.26806},
{"date":"2017-06-29","bremen":0.2679,"sorce":0.2675,"goes":0.2679,"scan1":0.26732,"scan2":0.26719,"scan3":0.26739},
{"date":"2017-06-30","bremen":0.2678,"sorce":0.2674,"goes":0.2678,"scan1":0.26796,"scan2":0.26727,"scan3":0.26684},
{"date":"2017-07-01","bremen":0.2677,"sorce":0.2674,"goes":0.2677,"scan1":0.26708,"scan2":0.26765,"scan3":0.26768},
{"date":"2017-07-02","bremen":0.2677,"sorce":0.2674,"goes":0.2677,"scan1":0.26761,"scan2":0.26699,"scan3":0.26725},
{"date":"2017-07-03","bremen":0.2677,"sorce":0.2675,"goes":0.2677,"scan1":0.26743,"scan2":0.26792,"scan3":0.26791},
{"date":"2017-07-04","bremen":0.2678,"sorce":0.2676,"goes":0.2678,"scan1":0.26795,"scan2":0.26742,"scan3":0.26728},
{"date":"2017-07-05","bremen":0.2680,"sorce":0.2679,"goes":0.2680,"scan1":0.26822,"scan2":0.26763,"scan3":0.26798},
{"date":"2017-07-06","bremen":0.2684,"sorce":0.2683,"goes":0.2684,"scan1":0.26809,"scan2":0.26850,"scan3":0.26784},
{"date":"2017-07-07","bremen":0.2688,"sorce":0.2687,"goes":0.2688,"scan1":0.26913,"scan2":0.26831,"scan3":0.26891},
{"date":"2017-07-08","bremen":0.2692,"sorce":0.2691,"goes":0.2692,"scan1":0.26923,"scan2":0.26896,"scan3":0.26881},
{"date":"2017-07-09","bremen":0.2696,"sorce":0.2696,"goes":0.2696,"scan1":0.26924,"scan2":0.26989,"scan3":0.27013},
{"date":"2017-07-10","bremen":0.2700,"sorce":0.2700,"goes":0.2700,"scan1":0.27025,"scan2":0.26966,"scan3":0.26994},
{"date":"2017-07-11","bremen":0.2703,"sorce":0.2704,"goes":0.2703,"scan1":0.27029,"scan2":0.27063,"scan3":0.27076},
{"date":"2017-07-12","bremen":0.2705,"sorce":0.2706,"goes":0.2705,"scan1":0.27109,"scan2":0.27014,"scan3":0.27090},
{"date":"2017-07-13","bremen":0.2704,"sorce":0.2705,"goes":0.2704,"scan1":0.27022,"scan2":0.27061,"scan3":0.27008},
{"date":"2017-07-14","bremen":0.2700,"sorce":0.2700,"goes":0.2700,"scan1":0.27018,"scan2":0.26979,"scan3":0.27080},
{"date":"2017-07-15","bremen":0.2695,"sorce":0.2695,"goes":0.2695,"scan1":0.26989,"scan2":0.26942,"scan3":0.26925},
{"date":"2017-07-16","bremen":0.2689,"sorce":0.2689,"goes":0.2689,"scan1":0.26848,"scan2":0.26924,"scan3":0.26904},
{"date":"2017-07-17","bremen":0.2684,"sorce":0.2684,"goes":0.2684,"scan1":0.26847,"scan2":0.26791,"scan3":0.26805},
{"date":"2017-07-18","bremen":0.2680,"sorce":0.2679,"goes":0.2680,"scan1":0.26818,"scan2":0.26805,"scan3":0.26836},
{"date":"2017-07-19","bremen":0.2677,"sorce":0.2676,"goes":0.2677,"scan1":0.26742,"scan2":0.26729,"scan3":0.26749},
{"date":"2017-07-20","bremen":0.2676,"sorce":0.2675,"goes":0.2676,"scan1":0.26806,"scan2":0.26737,"scan3":0.26694},
{"date":"2017-07-21","bremen":0.2677,"sorce":0.2676,"goes":0.2600,"scan1":0.26728,"scan2":0.26785,"scan3":0.26788},
{"date":"2017-07-22","bremen":0.2677,"sorce":0.2676,"goes":0.2677,"scan1":0.26781,"scan2":0.26719,"scan3":0.26745},
{"date":"2017-07-23","bremen":0.2676,"sorce":0.2675,"goes":0.2676,"scan1":0.26743,"scan2":0.26792,"scan3":0.26791},
{"date":"2017-07-24","bremen":0.2676,"sorce":0.2675,"goes":0.2676,"scan1":0.26785,"scan2":0.26732,"scan3":0.26718},
{"date":"2017-07-25","bremen":0.2676,"sorce":0.2675,"goes":0.2676,"scan1":0.26782,"scan2":0.26723,"scan3":0.26758},
{"date":"2017-07-26","bremen":0.2675,"sorce":0.2674,"goes":0.2675,"scan1":0.26719,"scan2":0.26760,"scan3":0.26694},
{"date":"2017-07-27","bremen":0.2675,"sorce":0.2674,"goes":0.2674,"scan1":0.26783,"scan2":0.26701,"scan3":0.26761},
{"date":"2017-07-28","bremen":0.2674,"sorce":0.2673,"goes":0.2673,"scan1":0.26743,"scan2":0.26716,"scan3":0.26701},
{"date":"2017-07-29","bremen":0.2673,"sorce":0.2672,"goes":0.2672,"scan1":0.26684,"scan2":0.26749,"scan3":0.26773},
{"date":"2017-07-30","bremen":0.2674,"sorce":0.2673,"goes":0.2674,"scan1":0.26755,"scan2":0.26696,"scan3":0.26724},
{"date":"2017-07-31","bremen":0.2677,"sorce":0.2676,"goes":0.2677,"scan1":0.26749,"scan2":0.26783,"scan3":0.26796},
{"date":"2017-08-01","bremen":0.2681,"sorce":0.2680,"goes":0.2681,"scan1":0.26849,"scan2":0.26754,"scan3":0.26780},
{"date":"2017-08-02","bremen":0.2684,"sorce":0.2683,"goes":0.2684,"scan1":0.26802,"scan2":0.26841,"scan3":0.26788},
{"date":"2017-08-03","bremen":0.2687,"sorce":0.2686,"goes":0.2687,"scan1":0.26878,"scan2":0.26839,"scan3":0.26923},
{"date":"2017-08-04","bremen":0.2689,"sorce":0.2688,"goes":0.2689,"scan1":0.26919,"scan2":0.26872,"scan3":0.26855},
{"date":"2017-08-05","bremen":0.2691,"sorce":0.2690,"goes":0.2691,"scan1":0.26858,"scan2":0.26934,"scan3":0.26914},
{"date":"2017-08-06","bremen":0.2692,"sorce":0.2691,"goes":0.2692,"scan1":0.26917,"scan2":0.26861,"scan3":0.26875},
{"date":"2017-08-07","bremen":0.2692,"sorce":0.2692,"goes":0.2692,"scan1":0.26948,"scan2":0.26935,"scan3":0.26966},
{"date":"2017-08-08","bremen":0.2691,"sorce":0.2691,"goes":0.2691,"scan1":0.26892,"scan2":0.26879,"scan3":0.26899},
{"date":"2017-08-09","bremen":0.2689,"sorce":0.2688,"goes":0.2689,"scan1":0.26936,"scan2":0.26867,"scan3":0.26824},
{"date":"2017-08-10","bremen":0.2686,"sorce":0.2685,"goes":0.2686,"scan1":0.26818,"scan2":0.26875,"scan3":0.26878},
{"date":"2017-08-11","bremen":0.2684,"sorce":0.2683,"goes":0.2684,"scan1":0.26851,"scan2":0.26789,"scan3":0.26815},
{"date":"2017-08-12","bremen":0.2682,"sorce":0.2681,"goes":0.2682,"scan1":0.26803,"scan2":0.26852,"scan3":0.26851},
{"date":"2017-08-13","bremen":0.2681,"sorce":0.2680,"goes":0.2681,"scan1":0.26835,"scan2":0.26782,"scan3":0.26768},
{"date":"2017-08-14","bremen":0.2680,"sorce":0.2679,"goes":0.2680,"scan1":0.26822,"scan2":0.26763,"scan3":0.26798},
{"date":"2017-08-15","bremen":0.2681,"sorce":0.2680,"goes":0.2681,"scan1":0.26779,"scan2":0.26820,"scan3":0.26754},
{"date":"2017-08-16","bremen":0.2683,"sorce":0.2682,"goes":0.2683,"scan1":0.26863,"scan2":0.26781,"scan3":0.26841},
{"date":"2017-08-17","bremen":0.2686,"sorce":0.2685,"goes":0.2686,"scan1":0.26863,"scan2":0.26836,"scan3":0.26821},
{"date":"2017-08-18","bremen":0.2689,"sorce":0.2688,"goes":0.2689,"scan1":0.26844,"scan2":0.26909,"scan3":0.26933},
{"date":"2017-08-19","bremen":0.2692,"sorce":0.2691,"goes":0.2692,"scan1":0.26935,"scan2":0.26876,"scan3":0.26904},
{"date":"2017-08-20","bremen":0.2694,"sorce":0.2693,"goes":0.2694,"scan1":0.26919,"scan2":0.26953,"scan3":0.26966},
{"date":"2017-08-21","bremen":0.2696,"sorce":0.2695,"goes":0.2696,"scan1":0.26999,"scan2":0.26904,"scan3":0.26930},
{"date":"2017-08-22","bremen":0.2695,"sorce":0.2695,"goes":0.2695,"scan1":0.26922,"scan2":0.26961,"scan3":0.26908},
{"date":"2017-08-23","bremen":0.2692,"sorce":0.2691,"goes":0.2692,"scan1":0.26928,"scan2":0.26889,"scan3":0.27078},
{"date":"2017-08-24","bremen":0.2689,"sorce":0.2688,"goes":0.2689,"scan1":0.26919,"scan2":0.26872,"scan3":0.26855},
{"date":"2017-08-25","bremen":0.2685,"sorce":0.2684,"goes":0.2685,"scan1":0.26798,"scan2":0.26874,"scan3":0.26854},
{"date":"2017-08-26","bremen":0.2683,"sorce":0.2682,"goes":0.2683,"scan1":0.26827,"scan2":0.26771,"scan3":0.26785},
{"date":"2017-08-27","bremen":0.2682,"sorce":0.2681,"goes":0.2682,"scan1":0.26838,"scan2":0.26825,"scan3":0.26856},
{"date":"2017-08-28","bremen":0.2684,"sorce":0.2683,"goes":0.2684,"scan1":0.26812,"scan2":0.26799,"scan3":0.26819},
{"date":"2017-08-29","bremen":0.2687,"sorce":0.2686,"goes":0.2687,"scan1":0.26916,"scan2":0.26847,"scan3":0.26804},
{"date":"2017-08-30","bremen":0.2690,"sorce":0.2689,"goes":0.2690,"scan1":0.26858,"scan2":0.26915,"scan3":0.26918},
{"date":"2017-08-31","bremen":0.2693,"sorce":0.2692,"goes":0.2693,"scan1":0.26941,"scan2":0.26879,"scan3":0.26905},
{"date":"2017-09-01","bremen":0.2697,"sorce":0.2696,"goes":0.2697,"scan1":0.26953,"scan2":0.27002,"scan3":0.27001},
{"date":"2017-09-02","bremen":0.2702,"sorce":0.2701,"goes":0.2703,"scan1":0.27045,"scan2":0.26992,"scan3":0.26978},
{"date":"2017-09-03","bremen":0.2707,"sorce":0.2706,"goes":0.2709,"scan1":0.27092,"scan2":0.27033,"scan3":0.27068},
{"date":"2017-09-04","bremen":0.2713,"sorce":0.2712,"goes":0.2716,"scan1":0.27099,"scan2":0.27140,"scan3":0.27074},
{"date":"2017-09-05","bremen":0.2718,"sorce":0.2717,"goes":0.2727,"scan1":0.27213,"scan2":0.27131,"scan3":0.27191},
{"date":"2017-09-06","bremen":0.2721,"sorce":0.2722,"goes":0.2737,"scan1":0.27233,"scan2":0.27206,"scan3":0.27250},
{"date":"2017-09-07","bremen":0.2719,"sorce":0.2720,"goes":0.2726,"scan1":0.27164,"scan2":0.27229,"scan3":0.27253},
{"date":"2017-09-08","bremen":0.2714,"sorce":0.2714,"goes":0.2716,"scan1":0.27165,"scan2":0.27106,"scan3":0.27134},
{"date":"2017-09-09","bremen":0.2707,"sorce":0.2707,"goes":0.2708,"scan1":0.27059,"scan2":0.27093,"scan3":0.27106},
{"date":"2017-09-10","bremen":0.2699,"sorce":0.2699,"goes":0.2699,"scan1":0.27039,"scan2":0.26944,"scan3":0.26970},
{"date":"2017-09-11","bremen":0.2692,"sorce":0.2691,"goes":0.2692,"scan1":0.26882,"scan2":0.26921,"scan3":0.26868},
{"date":"2017-09-12","bremen":0.2687,"sorce":0.2686,"goes":0.2687,"scan1":0.26878,"scan2":0.26839,"scan3":0.26923},
{"date":"2017-09-13","bremen":0.2683,"sorce":0.2682,"goes":0.2683,"scan1":0.26859,"scan2":0.26812,"scan3":0.26795},
{"date":"2017-09-14","bremen":0.2680,"sorce":0.2678,"goes":0.2680,"scan1":0.26738,"scan2":0.26814,"scan3":0.26794},
{"date":"2017-09-15","bremen":0.2678,"sorce":0.2676,"goes":0.2678,"scan1":0.26767,"scan2":0.26711,"scan3":0.26725},
{"date":"2017-09-16","bremen":0.2678,"sorce":0.2675,"goes":0.2678,"scan1":0.26778,"scan2":0.26765,"scan3":0.26796},
{"date":"2017-09-17","bremen":0.2679,"sorce":0.2676,"goes":0.2679,"scan1":0.26742,"scan2":0.26729,"scan3":0.26749},
{"date":"2017-09-18","bremen":0.2680,"sorce":0.2678,"goes":0.2680,"scan1":0.26836,"scan2":0.26767,"scan3":0.26724},
{"date":"2017-09-19","bremen":0.2680,"sorce":0.2679,"goes":0.2680,"scan1":0.26758,"scan2":0.26815,"scan3":0.26818},
{"date":"2017-09-20","bremen":0.2681,"sorce":0.2680,"goes":0.2681,"scan1":0.26821,"scan2":0.26759,"scan3":0.26785},
{"date":"2017-09-21","bremen":0.2682,"sorce":0.2681,"goes":0.2682,"scan1":0.26803,"scan2":0.26852,"scan3":0.26851},
{"date":"2017-09-22","bremen":0.2684,"sorce":0.2683,"goes":0.2684,"scan1":0.26865,"scan2":0.26812,"scan3":0.26798},
{"date":"2017-09-23","bremen":0.2687,"sorce":0.2686,"goes":0.2687,"scan1":0.26892,"scan2":0.26833,"scan3":0.26868},
{"date":"2017-09-24","bremen":0.2691,"sorce":0.2690,"goes":0.2690,"scan1":0.26879,"scan2":0.26920,"scan3":0.26854},
{"date":"2017-09-25","bremen":0.2697,"sorce":0.2696,"goes":0.2696,"scan1":0.27003,"scan2":0.26921,"scan3":0.26981},
{"date":"2017-09-26","bremen":0.2703,"sorce":0.2702,"goes":0.2702,"scan1":0.27033,"scan2":0.27006,"scan3":0.26991},
{"date":"2017-09-27","bremen":0.2709,"sorce":0.2708,"goes":0.2707,"scan1":0.27044,"scan2":0.27109,"scan3":0.27133},
{"date":"2017-09-28","bremen":0.2714,"sorce":0.2712,"goes":0.2711,"scan1":0.27145,"scan2":0.27086,"scan3":0.27166},
{"date":"2017-09-29","bremen":0.2714,"sorce":0.2712,"goes":0.2711,"scan1":0.27109,"scan2":0.27143,"scan3":0.27227},
{"date":"2017-09-30","bremen":0.2711,"sorce":0.2710,"goes":0.2709,"scan1":0.27149,"scan2":0.27054,"scan3":0.27080},
{"date":"2017-10-01","bremen":0.2706,"sorce":0.2706,"goes":0.2705,"scan1":0.27032,"scan2":0.27071,"scan3":0.27018},
{"date":"2017-10-02","bremen":0.2702,"sorce":0.2702,"goes":0.2701,"scan1":0.27038,"scan2":0.26999,"scan3":0.27083},
{"date":"2017-10-03","bremen":0.2698,"sorce":0.2698,"goes":0.2697,"scan1":0.27019,"scan2":0.26972,"scan3":0.26955},
{"date":"2017-10-04","bremen":0.2694,"sorce":0.2694,"goes":0.2693,"scan1":0.26898,"scan2":0.26974,"scan3":0.26954},
{"date":"2017-10-05","bremen":0.2689,"sorce":0.2689,"goes":0.2689,"scan1":0.26897,"scan2":0.26841,"scan3":0.26855},
{"date":"2017-10-06","bremen":0.2685,"sorce":0.2685,"goes":0.2685,"scan1":0.26878,"scan2":0.26865,"scan3":0.26896},
{"date":"2017-10-07","bremen":0.2681,"sorce":0.2680,"goes":0.2681,"scan1":0.26782,"scan2":0.26769,"scan3":0.26789},
{"date":"2017-10-08","bremen":0.2678,"sorce":0.2677,"goes":0.2678,"scan1":0.26826,"scan2":0.26757,"scan3":0.26714},
{"date":"2017-10-09","bremen":0.2676,"sorce":0.2674,"goes":0.2676,"scan1":0.26708,"scan2":0.26765,"scan3":0.26768},
{"date":"2017-10-10","bremen":0.2674,"sorce":0.2672,"goes":0.2674,"scan1":0.26741,"scan2":0.26679,"scan3":0.26705},
{"date":"2017-10-11","bremen":0.2673,"sorce":0.2671,"goes":0.2673,"scan1":0.26703,"scan2":0.26752,"scan3":0.26751},
{"date":"2017-10-12","bremen":0.2674,"sorce":0.2671,"goes":0.2673,"scan1":0.26745,"scan2":0.26692,"scan3":0.26678},
{"date":"2017-10-13","bremen":0.2676,"sorce":0.2673,"goes":0.2675,"scan1":0.26762,"scan2":0.26703,"scan3":0.26738},
{"date":"2017-10-14","bremen":0.2677,"sorce":0.2675,"goes":0.2676,"scan1":0.26729,"scan2":0.26770,"scan3":0.26704},
{"date":"2017-10-15","bremen":0.2678,"sorce":0.2676,"goes":0.2677,"scan1":0.26803,"scan2":0.26721,"scan3":0.26781},
{"date":"2017-10-16","bremen":0.2678,"sorce":0.2676,"goes":0.2678,"scan1":0.26773,"scan2":0.26746,"scan3":0.26731},
{"date":"2017-10-17","bremen":0.2678,"sorce":0.2677,"goes":0.2678,"scan1":0.26734,"scan2":0.26799,"scan3":0.26823},
{"date":"2017-10-18","bremen":0.2679,"sorce":0.2678,"goes":0.2679,"scan1":0.26805,"scan2":0.26746,"scan3":0.26774},
{"date":"2017-10-19","bremen":0.2680,"sorce":0.2679,"goes":0.2680,"scan1":0.26779,"scan2":0.26813,"scan3":0.26826},
{"date":"2017-10-20","bremen":0.2683,"sorce":0.2682,"goes":0.2683,"scan1":0.26869,"scan2":0.26774,"scan3":0.26800},
{"date":"2017-10-21","bremen":0.2686,"sorce":0.2685,"goes":0.2686,"scan1":0.26822,"scan2":0.26861,"scan3":0.26808},
{"date":"2017-10-22","bremen":0.2689,"sorce":0.2688,"goes":0.2689,"scan1":0.26898,"scan2":0.26859,"scan3":0.26943},
{"date":"2017-10-23","bremen":0.2693,"sorce":0.2692,"goes":0.2693,"scan1":0.26959,"scan2":0.26912,"scan3":0.26895},
{"date":"2017-10-24","bremen":0.2696,"sorce":0.2695,"goes":0.2696,"scan1":0.26908,"scan2":0.26984,"scan3":0.27243},
{"date":"2017-10-25","bremen":0.2698,"sorce":0.2710,"goes":0.2698,"scan1":0.26987,"scan2":0.26931,"scan3":0.26945},
{"date":"2017-10-26","bremen":0.2699,"sorce":0.2698,"goes":0.2699,"scan1":0.27008,"scan2":0.26995,"scan3":0.27026},
{"date":"2017-10-27","bremen":0.2698,"sorce":0.2698,"goes":0.2698,"scan1":0.26962,"scan2":0.26949,"scan3":0.27030},
{"date":"2017-10-28","bremen":0.2696,"sorce":0.2695,"goes":0.2696,"scan1":0.27006,"scan2":0.26937,"scan3":0.26894},
{"date":"2017-10-29","bremen":0.2693,"sorce":0.2692,"goes":0.2693,"scan1":0.26888,"scan2":0.26945,"scan3":0.26948},
{"date":"2017-10-30","bremen":0.2690,"sorce":0.2689,"goes":0.2690,"scan1":0.26911,"scan2":0.26849,"scan3":0.26875},
{"date":"2017-10-31","bremen":0.2688,"sorce":0.2687,"goes":0.2688,"scan1":0.26863,"scan2":0.26912,"scan3":0.26911},
{"date":"2017-11-01","bremen":0.2686,"sorce":0.2685,"goes":0.2686,"scan1":0.26885,"scan2":0.26832,"scan3":0.26818},
{"date":"2017-11-02","bremen":0.2684,"sorce":0.2683,"goes":0.2684,"scan1":0.26862,"scan2":0.26803,"scan3":0.26838},
{"date":"2017-11-03","bremen":0.2682,"sorce":0.2681,"goes":0.2682,"scan1":0.26789,"scan2":0.26830,"scan3":0.26764},
{"date":"2017-11-04","bremen":0.2680,"sorce":0.2679,"goes":0.2680,"scan1":0.26833,"scan2":0.26751,"scan3":0.26811},
{"date":"2017-11-05","bremen":0.2678,"sorce":0.2677,"goes":0.2678,"scan1":0.26783,"scan2":0.26756,"scan3":0.26741},
{"date":"2017-11-06","bremen":0.2676,"sorce":0.2675,"goes":0.2676,"scan1":0.26714,"scan2":0.26779,"scan3":0.26803},
{"date":"2017-11-07","bremen":0.2674,"sorce":0.2673,"goes":0.2674,"scan1":0.26755,"scan2":0.26696,"scan3":0.26724},
{"date":"2017-11-08","bremen":0.2672,"sorce":0.2671,"goes":0.2672,"scan1":0.26699,"scan2":0.26733,"scan3":0.26746},
{"date":"2017-11-09","bremen":0.2671,"sorce":0.2670,"goes":0.2671,"scan1":0.26749,"scan2":0.26654,"scan3":0.26643},
{"date":"2017-11-10","bremen":0.2671,"sorce":0.2670,"goes":0.2671,"scan1":0.26672,"scan2":0.26711,"scan3":0.26658},
{"date":"2017-11-11","bremen":0.2673,"sorce":0.2672,"goes":0.2673,"scan1":0.26738,"scan2":0.26699,"scan3":0.26783},
{"date":"2017-11-12","bremen":0.2676,"sorce":0.2675,"goes":0.2675,"scan1":0.26789,"scan2":0.26742,"scan3":0.26725},
{"date":"2017-11-13","bremen":0.2679,"sorce":0.2678,"goes":0.2678,"scan1":0.26738,"scan2":0.26814,"scan3":0.26794},
{"date":"2017-11-14","bremen":0.2682,"sorce":0.2681,"goes":0.2680,"scan1":0.26817,"scan2":0.26761,"scan3":0.26775},
{"date":"2017-11-15","bremen":0.2684,"sorce":0.2683,"goes":0.2682,"scan1":0.26858,"scan2":0.26845,"scan3":0.26876},
{"date":"2017-11-16","bremen":0.2686,"sorce":0.2685,"goes":0.2684,"scan1":0.26832,"scan2":0.26819,"scan3":0.26839},
{"date":"2017-11-17","bremen":0.2688,"sorce":0.2687,"goes":0.2686,"scan1":0.26926,"scan2":0.26857,"scan3":0.26814},
{"date":"2017-11-18","bremen":0.2690,"sorce":0.2689,"goes":0.2688,"scan1":0.26858,"scan2":0.26915,"scan3":0.26918},
{"date":"2017-11-19","bremen":0.2691,"sorce":0.2690,"goes":0.2690,"scan1":0.26921,"scan2":0.26859,"scan3":0.26885},
{"date":"2017-11-20","bremen":0.2692,"sorce":0.2691,"goes":0.2691,"scan1":0.26903,"scan2":0.26952,"scan3":0.26951},
{"date":"2017-11-21","bremen":0.2693,"sorce":0.2692,"goes":0.2692,"scan1":0.26955,"scan2":0.26902,"scan3":0.26888},
{"date":"2017-11-22","bremen":0.2693,"sorce":0.2692,"goes":0.2692,"scan1":0.26952,"scan2":0.26893,"scan3":0.26928},
{"date":"2017-11-23","bremen":0.2692,"sorce":0.2691,"goes":0.2691,"scan1":0.26889,"scan2":0.26930,"scan3":0.27010},
{"date":"2017-11-24","bremen":0.2690,"sorce":0.2689,"goes":0.2689,"scan1":0.26933,"scan2":0.26851,"scan3":0.26911},
{"date":"2017-11-25","bremen":0.2687,"sorce":0.2686,"goes":0.2686,"scan1":0.26873,"scan2":0.26846,"scan3":0.26831},
{"date":"2017-11-26","bremen":0.2684,"sorce":0.2683,"goes":0.2683,"scan1":0.26794,"scan2":0.26859,"scan3":0.26883},
{"date":"2017-11-27","bremen":0.2682,"sorce":0.2681,"goes":0.2681,"scan1":0.26835,"scan2":0.26776,"scan3":0.26804},
{"date":"2017-11-28","bremen":0.2680,"sorce":0.2679,"goes":0.2679,"scan1":0.26779,"scan2":0.26813,"scan3":0.26826},
{"date":"2017-11-29","bremen":0.2679,"sorce":0.2678,"goes":0.2678,"scan1":0.26829,"scan2":0.26734,"scan3":0.26760},
{"date":"2017-11-30","bremen":0.2677,"sorce":0.2675,"goes":0.2676,"scan1":0.26722,"scan2":0.26761,"scan3":0.26708},
{"date":"2017-12-01","bremen":0.2674,"sorce":0.2672,"goes":0.2673,"scan1":0.26738,"scan2":0.26699,"scan3":0.26783},
{"date":"2017-12-02","bremen":0.2670,"sorce":0.2666,"goes":0.2669,"scan1":0.26699,"scan2":0.26652,"scan3":0.26635},
{"date":"2017-12-03","bremen":0.2667,"sorce":0.2663,"goes":0.2667,"scan1":0.26650,"scan2":0.26664,"scan3":0.26644}
],
"dots": [
{"date":"2017-02-24T00:00Z","goes":0.26903},
{"date":"2017-02-24T12:00Z","goes":0.26889},
{"date":"2017-02-25T00:00Z","goes":0.26878},
{"date":"2017-02-25T12:00Z","goes":0.26862},
{"date":"2017-02-26T00:00Z","goes":0.26851},
{"date":"2017-02-26T12:00Z","goes":0.26835},
{"date":"2017-02-27T00:00Z","goes":0.26824},
{"date":"2017-02-27T12:00Z","goes":0.26808},
{"date":"2017-02-28T00:00Z","goes":0.26797},
{"date":"2017-02-28T12:00Z","goes":0.26782},
{"date":"2017-03-01T00:00Z","goes":0.26770},
{"date":"2017-03-01T12:00Z","goes":0.26757},
{"date":"2017-03-02T00:00Z","goes":0.26744},
{"date":"2017-03-02T12:00Z","goes":0.26729},
{"date":"2017-03-03T00:00Z","goes":0.26718},
{"date":"2017-03-03T12:00Z","goes":0.26702},
{"date":"2017-03-04T00:00Z","goes":0.26692},
{"date":"2017-03-04T12:00Z","goes":0.26676},
{"date":"2017-03-05T00:00Z","goes":0.26665},
{"date":"2017-03-05T12:00Z","goes":0.26650},
{"date":"2017-03-06T00:00Z","goes":0.26640},
{"date":"2017-03-06T12:00Z","goes":0.26624},
{"date":"2017-03-07T00:00Z","goes":0.26612},
{"date":"2017-02-17T00:00Z","goes":0.26700},
{"date":"2017-06-17T00:00Z","goes":0.26980},
{"date":"2017-06-24T12:00Z","goes":0.26925},
{"date":"2017-07-23T14:00Z","goes":0.26860},
{"date":"2017-08-10T00:00Z","goes":0.27000},
{"date":"2017-08-13T10:00Z","goes":0.27450},
{"date":"2017-08-23T20:00Z","goes":0.27010},
{"date":"2017-09-19T16:00Z","goes":0.26940},
{"date":"2017-09-21T00:00Z","goes":0.26940},
{"date":"2017-10-10T12:00Z","goes":0.26864},
{"date":"2017-10-31T00:00Z","goes":0.27034}
]
},
"layer": [
{
"data": {"name": "daily"},
"transform": [{"fold": ["scan1", "scan2", "scan3"], "as": ["scan", "value"]}, {"filter": "isValid(datum.value)"}],
"mark": {"type": "point", "shape": "M-1,0L1,0M0,-1L0,1M-0.7,-0.7L0.7,0.7M-0.7,0.7L0.7,-0.7", "filled": false, "color": "#8a3a9c", "size": 18, "strokeWidth": 1.3, "opacity": 1, "clip": true},
"encoding": {
"x": {"field": "date", "type": "temporal", "scale": {"type": "utc", "domain": [1478476800000, 1513036800000]},
 "axis": {"orient": "bottom", "values": [1478476800000, 1487116800000, 1495756800000, 1504396800000, 1513036800000], "ticks": false, "labelExpr": "[utcFormat(datum.value, '%d-%b'), utcFormat(datum.value, '%Y')]", "labelPadding": 4, "labelLineHeight": 16, "labelFont": "Liberation Sans", "labelFontSize": 15, "labelColor": "black", "labelFlush": false, "labelOverlap": false, "labelBound": false, "title": null, "domain": false, "grid": false}},
"y": {"field": "value", "type": "quantitative", "scale": {"domain": [0.26606, 0.27498], "zero": false, "nice": false},
 "axis": {"orient": "left", "values": [0.268, 0.270, 0.272, 0.274], "ticks": false, "format": ".3f", "labelPadding": 8, "labelFont": "Liberation Sans", "labelFontSize": 15, "labelColor": "black", "title": "Index", "titleFont": "Liberation Sans", "titleFontSize": 15, "titleFontWeight": "normal", "titleColor": "black", "titlePadding": 8, "domain": false, "grid": false}}
}
},
{
"data": {"name": "daily"},
"mark": {"type": "line", "strokeWidth": 1.5, "color": "#3e5bbf", "clip": true},
"encoding": {
"x": {"field": "date", "type": "temporal", "scale": {"type": "utc", "domain": [1478476800000, 1513036800000]},
 "axis": {"orient": "bottom", "values": [1478476800000, 1487116800000, 1495756800000, 1504396800000, 1513036800000], "labels": false, "tickSize": -15, "tickColor": "black", "title": null, "domain": false, "grid": false}},
"y": {"field": "bremen", "type": "quantitative", "scale": {"domain": [0.26606, 0.27498], "zero": false, "nice": false},
 "axis": {"orient": "left", "values": [0.268, 0.270, 0.272, 0.274], "labels": false, "tickSize": -15, "tickColor": "black", "title": null, "domain": false, "grid": false}}
}
},
{
"data": {"name": "daily"},
"mark": {"type": "line", "strokeWidth": 1.5, "color": "#ec3a2c", "clip": true},
"encoding": {
"x": {"field": "date", "type": "temporal", "scale": {"type": "utc", "domain": [1478476800000, 1513036800000]},
 "axis": {"orient": "top", "values": [1478476800000, 1487116800000, 1495756800000, 1504396800000, 1513036800000], "labels": false, "tickSize": -15, "tickColor": "black", "title": null, "domain": false, "grid": false}},
"y": {"field": "sorce", "type": "quantitative", "scale": {"domain": [0.26606, 0.27498], "zero": false, "nice": false},
 "axis": {"orient": "right", "values": [0.268, 0.270, 0.272, 0.274], "labels": false, "tickSize": -15, "tickColor": "black", "title": null, "domain": false, "grid": false}}
}
},
{
"data": {"name": "daily"},
"mark": {"type": "line", "strokeWidth": 2, "color": "#000000", "clip": true},
"encoding": {
"x": {"field": "date", "type": "temporal", "scale": {"type": "utc", "domain": [1478476800000, 1513036800000]},
 "axis": {"orient": "top", "values": [1478476800000,1479340800000,1480204800000,1481068800000,1481932800000,1482796800000,1483660800000,1484524800000,1485388800000,1486252800000,1487116800000,1487980800000,1488844800000,1489708800000,1490572800000,1491436800000,1492300800000,1493164800000,1494028800000,1494892800000,1495756800000,1496620800000,1497484800000,1498348800000,1499212800000,1500076800000,1500940800000,1501804800000,1502668800000,1503532800000,1504396800000,1505260800000,1506124800000,1506988800000,1507852800000,1508716800000,1509580800000,1510444800000,1511308800000,1512172800000,1513036800000], "labels": false, "tickSize": -7, "tickColor": "black", "title": null, "domain": false, "grid": false}},
"y": {"field": "goes", "type": "quantitative", "scale": {"domain": [0.26606, 0.27498], "zero": false, "nice": false},
 "axis": {"orient": "right", "values": [0.2665,0.267,0.2675,0.268,0.2685,0.269,0.2695,0.27,0.2705,0.271,0.2715,0.272,0.2725,0.273,0.2735,0.274,0.2745], "labels": false, "tickSize": -7, "tickColor": "black", "title": null, "domain": false, "grid": false}}
}
},
{
"data": {"name": "dots"},
"mark": {"type": "point", "filled": true, "shape": "circle", "size": 5, "color": "#000000", "opacity": 1, "clip": true},
"encoding": {
"x": {"field": "date", "type": "temporal", "scale": {"type": "utc", "domain": [1478476800000, 1513036800000]},
 "axis": {"orient": "bottom", "values": [1478476800000,1479340800000,1480204800000,1481068800000,1481932800000,1482796800000,1483660800000,1484524800000,1485388800000,1486252800000,1487116800000,1487980800000,1488844800000,1489708800000,1490572800000,1491436800000,1492300800000,1493164800000,1494028800000,1494892800000,1495756800000,1496620800000,1497484800000,1498348800000,1499212800000,1500076800000,1500940800000,1501804800000,1502668800000,1503532800000,1504396800000,1505260800000,1506124800000,1506988800000,1507852800000,1508716800000,1509580800000,1510444800000,1511308800000,1512172800000,1513036800000], "labels": false, "tickSize": -7, "tickColor": "black", "title": null, "domain": false, "grid": false}},
"y": {"field": "goes", "type": "quantitative", "scale": {"domain": [0.26606, 0.27498], "zero": false, "nice": false},
 "axis": {"orient": "left", "values": [0.2665,0.267,0.2675,0.268,0.2685,0.269,0.2695,0.27,0.2705,0.271,0.2715,0.272,0.2725,0.273,0.2735,0.274,0.2745], "labels": false, "tickSize": -7, "tickColor": "black", "title": null, "domain": false, "grid": false}}
}
},
{
"data": {"name": "series"},
"transform": [{"filter": "datum.series === 'legend only'"}],
"mark": {"type": "point", "filled": false, "strokeWidth": 1.5},
"encoding": {
"stroke": {"field": "series", "type": "nominal",
 "scale": {"domain": ["GOES-16 EXIS", "SORCE SOLSTICE (single scans)", "Bremen Composite", "SORCE SOLSTICE (daily average)"], "range": ["#000000", "#000000", "#3e5bbf", "#f28c96"]},
 "legend": {"title": null, "orient": "top-left", "offset": 0, "padding": 8, "fillColor": "white", "strokeColor": "black", "symbolSize": 196, "symbolStrokeWidth": 1.4, "symbolFillColor": "transparent", "labelFont": "Liberation Sans", "labelFontSize": 15, "labelColor": "black", "labelOffset": 24, "labelLimit": 400, "rowPadding": 3}},
"shape": {"field": "series", "type": "nominal",
 "scale": {"domain": ["GOES-16 EXIS", "SORCE SOLSTICE (single scans)", "Bremen Composite", "SORCE SOLSTICE (daily average)"], "range": ["M-1,0L4,0", "M-1,0L0,0M-0.5,-0.5L-0.5,0.5M-0.85,-0.35L-0.15,0.35M-0.85,0.35L-0.15,-0.35M1,0L2,0M1.5,-0.5L1.5,0.5M1.15,-0.35L1.85,0.35M1.15,0.35L1.85,-0.35M3.1,0L4.1,0M3.6,-0.5L3.6,0.5M3.25,-0.35L3.95,0.35M3.25,0.35L3.95,-0.35", "M-1,0L4,0", "M-1,0L4,0"]},
 "legend": {"title": null, "orient": "top-left", "offset": 0, "padding": 8, "fillColor": "white", "strokeColor": "black", "symbolSize": 196, "symbolStrokeWidth": 1.4, "symbolFillColor": "transparent", "labelFont": "Liberation Sans", "labelFontSize": 15, "labelColor": "black", "labelOffset": 24, "labelLimit": 400, "rowPadding": 3}}
}
}
],
"resolve": {"axis": {"x": "independent", "y": "independent"}}
}
